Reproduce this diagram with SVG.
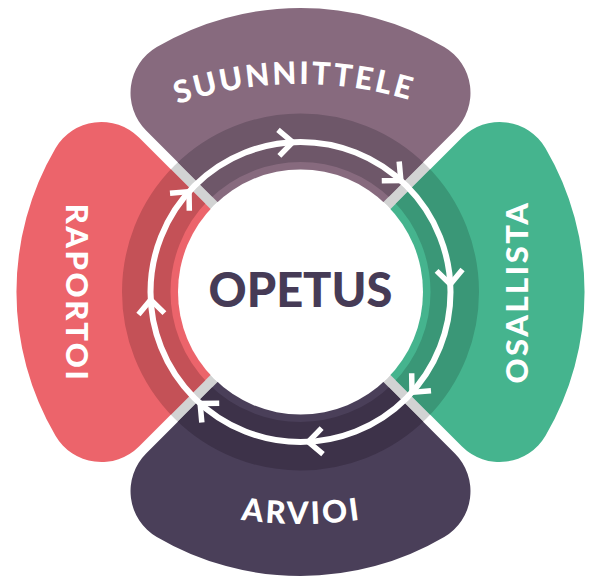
<svg xmlns="http://www.w3.org/2000/svg" xmlns:xlink="http://www.w3.org/1999/xlink" width="590" height="577" viewBox="0 0 590 577">
<style>
.lbl{font-family:Lato,"Open Sans","Liberation Sans",sans-serif;font-weight:900;font-size:31px;letter-spacing:2.5px;fill:#ffffff}
.ctr{font-family:Lato,"Open Sans","Liberation Sans",sans-serif;font-weight:900;font-size:47px;letter-spacing:0px;fill:#463b56}
.trk{fill:none;stroke:#ffffff;stroke-width:6}
.chev{fill:none;stroke:#ffffff;stroke-width:5.5;stroke-linejoin:miter}
</style>
<defs>
<path id="petal" d="M7.07,0 L161.5,-154.4 A53.2,53.2 0 0 1 245,-143.7 A284,284 0 0 1 245,143.7 A53.2,53.2 0 0 1 161.5,154.4 Z"/>
<clipPath id="pclip"><use xlink:href="#petal"/></clipPath>
<polyline id="chev" points="-14,-13 0,0 -14,13"/>
<path id="arcTop" d="M56.2,172.9 A380,380 0 0 1 544.8,172.9"/>
<path id="arcBot" d="M90.5,467.7 A420,420 0 0 0 510.5,467.7"/>
</defs>
<rect width="590" height="577" fill="#ffffff"/>
<circle cx="300.5" cy="292" r="150.5" fill="none" stroke="#d2d3d3" stroke-width="56"/>
<g id="node-suunnittele" transform="translate(300.5,292) rotate(-90)">
<use xlink:href="#petal" fill="#876a7e"/>
<circle r="154.25" fill="none" stroke="#6e5769" stroke-width="48.5" clip-path="url(#pclip)"/>
</g>
<g id="node-osallista" transform="translate(300.5,292)">
<use xlink:href="#petal" fill="#45b48e"/>
<circle r="154.25" fill="none" stroke="#3a9777" stroke-width="48.5" clip-path="url(#pclip)"/>
</g>
<g id="node-arvioi" transform="translate(300.5,292) rotate(90)">
<use xlink:href="#petal" fill="#4a3f59"/>
<circle r="154.25" fill="none" stroke="#3d3249" stroke-width="48.5" clip-path="url(#pclip)"/>
</g>
<g id="node-raportoi" transform="translate(300.5,292) rotate(180)">
<use xlink:href="#petal" fill="#ec646b"/>
<circle r="154.25" fill="none" stroke="#c45157" stroke-width="48.5" clip-path="url(#pclip)"/>
</g>
<g id="node-opetus">
<circle cx="300.5" cy="292" r="122.5" fill="#ffffff"/>
<text class="ctr" x="300.5" y="307" text-anchor="middle">OPETUS</text>
</g>
<g id="connectors" transform="translate(300.5,292)">
<circle class="trk" r="150"/>
<use class="chev" xlink:href="#chev" transform="rotate(-93) translate(150,0) rotate(90)"/>
<use class="chev" xlink:href="#chev" transform="rotate(-48) translate(150,0) rotate(90)"/>
<use class="chev" xlink:href="#chev" transform="rotate(-3) translate(150,0) rotate(90)"/>
<use class="chev" xlink:href="#chev" transform="rotate(42) translate(150,0) rotate(90)"/>
<use class="chev" xlink:href="#chev" transform="rotate(87) translate(150,0) rotate(90)"/>
<use class="chev" xlink:href="#chev" transform="rotate(132) translate(150,0) rotate(90)"/>
<use class="chev" xlink:href="#chev" transform="rotate(177) translate(150,0) rotate(90)"/>
<use class="chev" xlink:href="#chev" transform="rotate(222) translate(150,0) rotate(90)"/>
</g>
<g id="labels">
<text class="lbl" text-anchor="middle"><textPath xlink:href="#arcTop" startOffset="259">SUUNNITTELE</textPath></text>
<text class="lbl" text-anchor="middle"><textPath xlink:href="#arcBot" startOffset="221">ARVIOI</textPath></text>
<text class="lbl" text-anchor="middle" transform="translate(528,292) rotate(-90)">OSALLISTA</text>
<text class="lbl" text-anchor="middle" transform="translate(66,293) rotate(90)">RAPORTOI</text>
</g>
</svg>
